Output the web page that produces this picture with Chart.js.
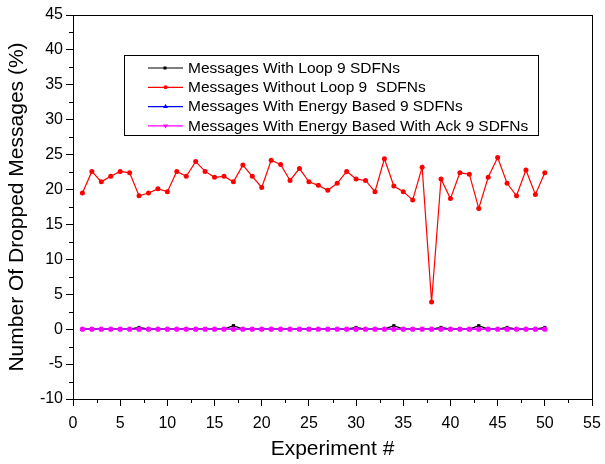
<!DOCTYPE html>
<html>
<head>
<meta charset="utf-8">
<script src="https://cdn.jsdelivr.net/npm/chart.js@4"></script>
<style>
  html, body { margin: 0; padding: 0; background: #fff; }
  #wrap { width: 605px; height: 464px; }
</style>
</head>
<body>
<div id="wrap"><canvas id="grafico" width="605" height="464"></canvas></div>
<script>
// datos
const experimentos = Array.from({ length: 50 }, (_, i) => i + 1);
const conLoop = [0, 0, 0, 0, 0, 0, 0.25, 0, 0, 0,
                 0, 0, 0, 0, 0, 0, 0.5, 0, 0, 0,
                 0, 0, 0, 0, 0, 0, 0, 0, 0, 0.25,
                 0, 0, 0, 0.5, 0, 0, 0, 0, 0.25, 0,
                 0, 0, 0.5, 0, 0, 0.25, 0, 0, 0, 0.25];
const sinLoop = [19.5, 22.6, 21.1, 21.9, 22.6, 22.4, 19.1, 19.5, 20.1, 19.7,
                 22.6, 21.9, 24.0, 22.6, 21.75, 21.9, 21.1, 23.5, 21.9, 20.3,
                 24.2, 23.6, 21.3, 23.0, 21.1, 20.6, 19.9, 20.9, 22.6, 21.5,
                 21.3, 19.7, 24.4, 20.5, 19.7, 18.5, 23.2, 3.9, 21.5, 18.7,
                 22.4, 22.2, 17.3, 21.75, 24.6, 20.9, 19.1, 22.8, 19.3, 22.4];
const energia = experimentos.map(() => 0);
const energiaAck = experimentos.map(() => 0);
const etiquetas = ['Messages With Loop 9 SDFNs', 'Messages Without Loop 9  SDFNs',
                   'Messages With Energy Based 9 SDFNs', 'Messages With Energy Based With Ack 9 SDFNs'];
const ticksX = [0, 5, 10, 15, 20, 25, 30, 35, 40, 45, 50, 55];
const ticksY = [-10, -5, 0, 5, 10, 15, 20, 25, 30, 35, 40, 45];

const FUENTE = '"Liberation Sans", Arial, sans-serif';

function puntos(valores) {
    return valores.map((y, i) => ({ x: experimentos[i], y: y }));
}

// marco, ticks menores y leyenda propia
const extras = {
    id: 'extras',
    afterDraw(chart) {
        const ctx = chart.ctx;
        const area = chart.chartArea;
        const sx = chart.scales.x;
        const sy = chart.scales.y;
        ctx.save();
        ctx.strokeStyle = '#000';
        ctx.lineWidth = 1;
        ctx.strokeRect(Math.round(area.left) + 0.5, Math.round(area.top) + 0.5,
                       Math.round(area.right - area.left), Math.round(area.bottom - area.top));
        ctx.beginPath();
        for (let v = -7.5; v < 45; v += 5) {
            const py = Math.round(sy.getPixelForValue(v)) + 0.5;
            ctx.moveTo(area.left - 4, py);
            ctx.lineTo(area.left, py);
        }
        for (let v = 2.5; v < 55; v += 5) {
            const px = Math.round(sx.getPixelForValue(v)) + 0.5;
            ctx.moveTo(px, area.bottom);
            ctx.lineTo(px, area.bottom + 4);
        }
        ctx.stroke();

        // leyenda
        const caja = { x: 124.5, y: 55.5, w: 414, h: 80 };
        ctx.fillStyle = '#fff';
        ctx.fillRect(caja.x, caja.y, caja.w, caja.h);
        ctx.strokeStyle = '#000';
        ctx.strokeRect(caja.x, caja.y, caja.w, caja.h);
        ctx.font = '15.5px ' + FUENTE;
        ctx.textBaseline = 'middle';
        chart.data.datasets.forEach((ds, i) => {
            const fy = 68 + i * 19.3;
            ctx.strokeStyle = ds.borderColor;
            ctx.lineWidth = 1.2;
            ctx.beginPath();
            ctx.moveTo(148, fy);
            ctx.lineTo(183, fy);
            ctx.stroke();
            ctx.fillStyle = ds.borderColor;
            ctx.beginPath();
            if (i === 0) {
                ctx.rect(163.5, fy - 1.5, 3, 3);
            } else if (i === 1) {
                ctx.arc(165.5, fy, 2, 0, Math.PI * 2);
            } else if (i === 2) {
                ctx.moveTo(165.5, fy - 2.5); ctx.lineTo(168, fy + 1.5); ctx.lineTo(163, fy + 1.5);
            } else {
                ctx.moveTo(165.5, fy + 2.5); ctx.lineTo(168, fy - 1.5); ctx.lineTo(163, fy - 1.5);
            }
            ctx.fill();
            ctx.fillStyle = '#000';
            ctx.fillText(ds.label, 188, fy + 0.5);
        });
        ctx.restore();
    }
};

function crearGrafico() {
    const canvas = document.getElementById('grafico');
    new Chart(canvas, {
        type: 'scatter',
        data: {
            datasets: [{
                label: etiquetas[0],
                data: puntos(conLoop),
                showLine: true,
                borderColor: '#000000',
                backgroundColor: '#000000',
                borderWidth: 1.2,
                pointStyle: 'rect',
                pointRadius: 2.2,
                pointBorderWidth: 0,
                order: 3
            }, {
                label: etiquetas[1],
                data: puntos(sinLoop),
                showLine: true,
                borderColor: '#ff0000',
                backgroundColor: '#ff0000',
                borderWidth: 1.2,
                pointStyle: 'circle',
                pointRadius: 2.5,
                pointBorderWidth: 0,
                order: 2
            }, {
                label: etiquetas[2],
                data: puntos(energia),
                showLine: true,
                borderColor: '#0000ff',
                backgroundColor: '#0000ff',
                borderWidth: 1.2,
                pointStyle: 'triangle',
                pointRadius: 2.5,
                pointBorderWidth: 0,
                order: 1
            }, {
                label: etiquetas[3],
                data: puntos(energiaAck),
                showLine: true,
                borderColor: '#ff00ff',
                backgroundColor: '#ff00ff',
                borderWidth: 1.2,
                pointStyle: 'circle',
                pointRadius: 2.6,
                pointBorderWidth: 0,
                order: 0
            }]
        },
        options: {
            responsive: false,
            animation: false,
            layout: { padding: { top: 15, right: 13, left: 0, bottom: 0 } },
            plugins: {
                legend: { display: false },
                tooltip: { enabled: false }
            },
            scales: {
                x: {
                    type: 'linear',
                    min: 0,
                    max: 55,
                    afterFit(scale) {
                        scale.height = 65;
                        scale.paddingLeft = 0;
                        scale.paddingRight = 0;
                    },
                    afterBuildTicks(scale) { scale.ticks = ticksX.map(v => ({ value: v })); },
                    ticks: { color: '#000', font: { family: FUENTE, size: 16 }, padding: 8, maxRotation: 0 },
                    grid: { drawOnChartArea: false, tickLength: 7, color: '#000' },
                    border: { color: '#000' },
                    title: {
                        display: true,
                        text: 'Experiment #',
                        color: '#000',
                        font: { family: FUENTE, size: 21 },
                        padding: { top: 0, bottom: 2 }
                    }
                },
                y: {
                    type: 'linear',
                    min: -10,
                    max: 45,
                    afterFit(scale) {
                        scale.width = 73;
                        scale.paddingTop = 0;
                        scale.paddingBottom = 0;
                    },
                    afterBuildTicks(scale) { scale.ticks = ticksY.map(v => ({ value: v })); },
                    ticks: { color: '#000', font: { family: FUENTE, size: 16 }, padding: 3 },
                    grid: { drawOnChartArea: false, tickLength: 7, color: '#000' },
                    border: { color: '#000' },
                    title: {
                        display: true,
                        text: 'Number Of Dropped Messages (%)',
                        color: '#000',
                        font: { family: FUENTE, size: 21 },
                        padding: { top: 5, bottom: 0 }
                    }
                }
            }
        },
        plugins: [extras]
    });
}

document.addEventListener('DOMContentLoaded', crearGrafico);
</script>
</body>
</html>
